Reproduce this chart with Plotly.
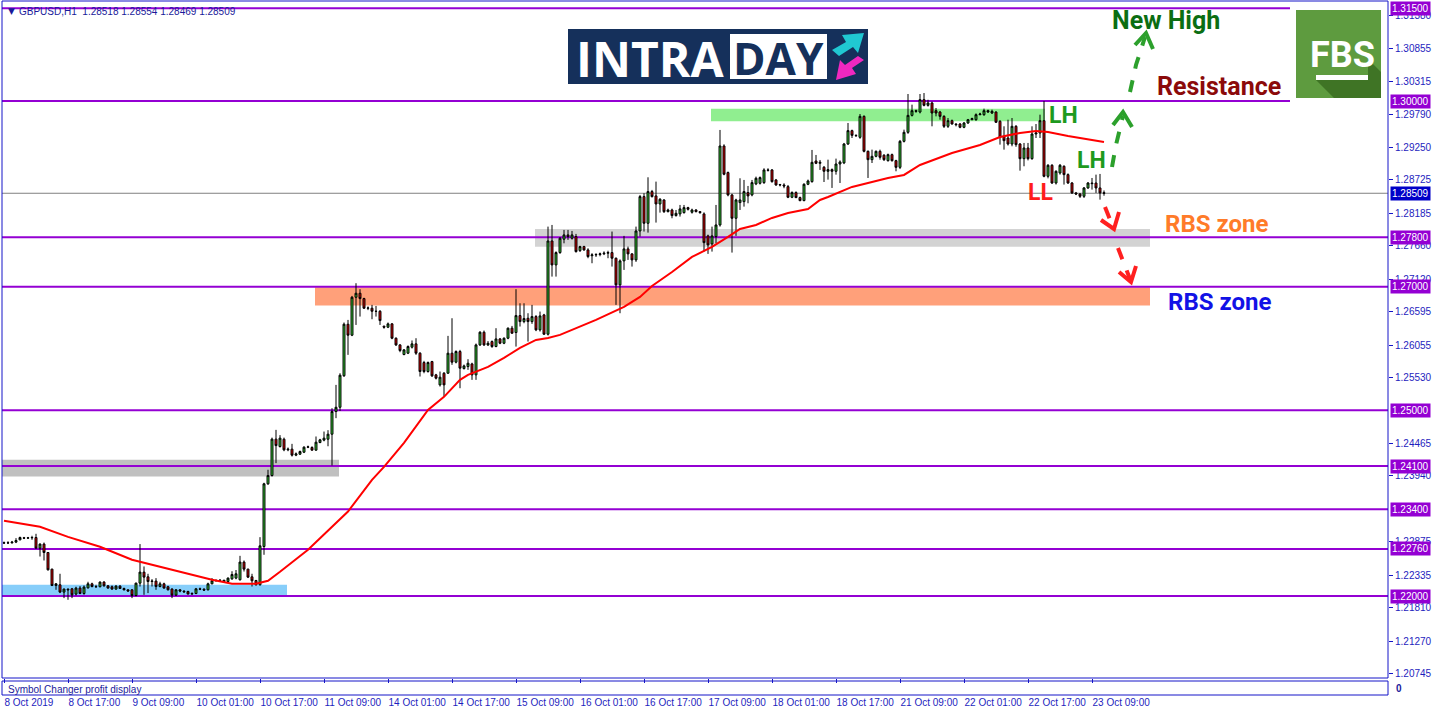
import plotly.graph_objects as go

# ---------------- DATA ----------------
bar_index = list(range(276))

opens = [
1.22855,1.22860,1.22858,1.22871,1.22908,1.22940,1.22935,1.22940,1.22945,1.22774,
1.22839,1.22703,1.22434,1.22170,1.22181,1.22063,1.22112,1.22116,1.22031,1.22128,
1.22040,1.22132,1.22197,1.22153,1.22150,1.22225,1.22165,1.22150,1.22112,1.22160,
1.22121,1.22100,1.22100,1.22008,1.22208,1.22386,1.22310,1.22234,1.22241,1.22153,
1.22197,1.22150,1.22112,1.22015,1.22100,1.22080,1.22073,1.22031,1.22040,1.22116,
1.22110,1.22100,1.22197,1.22246,1.22251,1.22255,1.22234,1.22278,1.22289,1.22262,
1.22548,1.22434,1.22310,1.22251,1.22181,1.22800,1.23813,1.23947,1.24535,1.24415,
1.24534,1.24362,1.24373,1.24276,1.24292,1.24324,1.24405,1.24400,1.24357,1.24480,
1.24519,1.24534,1.24615,1.24981,1.25050,1.25560,1.26392,1.26215,1.26828,1.26893,
1.26807,1.26651,1.26651,1.26602,1.26602,1.26360,1.26344,1.26398,1.26166,1.26058,
1.25903,1.25924,1.26021,1.26075,1.25924,1.25773,1.25628,1.25789,1.25574,1.25412,
1.25600,1.25601,1.25924,1.25779,1.25951,1.25676,1.25708,1.25751,1.25574,1.26058,
1.26263,1.26058,1.26112,1.26032,1.26155,1.26085,1.26166,1.26328,1.26258,1.26532,
1.26435,1.26489,1.26435,1.26516,1.26301,1.26543,1.26231,1.27738,1.27351,1.27550,
1.27766,1.27836,1.27782,1.27809,1.27582,1.27647,1.27593,1.27500,1.27513,1.27518,
1.27530,1.27540,1.27550,1.27459,1.27028,1.27416,1.27610,1.27529,1.27432,1.27900,
1.28455,1.28024,1.28536,1.28466,1.28336,1.28401,1.28212,1.28239,1.28148,1.28175,
1.28196,1.28277,1.28202,1.28239,1.28212,1.28175,1.27820,1.27690,1.27809,1.27997,
1.29273,1.28843,1.28482,1.28105,1.28358,1.28374,1.28520,1.28482,1.28660,1.28670,
1.28681,1.28886,1.28886,1.28724,1.28643,1.28643,1.28616,1.28444,1.28520,1.28439,
1.28390,1.28654,1.28697,1.29031,1.28993,1.28929,1.28864,1.28891,1.28864,1.28982,
1.29000,1.29305,1.29521,1.29445,1.29413,1.29752,1.29187,1.29052,1.29106,1.29187,
1.29124,1.29036,1.29133,1.29036,1.28928,1.29348,1.29494,1.29768,1.29844,1.29822,
1.30022,1.29930,1.29968,1.29844,1.29822,1.29752,1.29591,1.29682,1.29628,1.29628,
1.29575,1.29645,1.29698,1.29698,1.29779,1.29779,1.29844,1.29806,1.29822,1.29672,
1.29429,1.29402,1.29305,1.29591,1.29305,1.29068,1.29241,1.29068,1.29467,1.29483,
1.29682,1.28783,1.28961,1.28675,1.28837,1.28945,1.28810,1.28675,1.28514,1.28498,
1.28460,1.28595,1.28675,1.28675,1.28595,1.28518]

highs = [
1.22880,1.22885,1.22890,1.22935,1.22960,1.22955,1.22955,1.22973,1.23005,1.22850,
1.22864,1.22710,1.22440,1.22208,1.22359,1.22120,1.22120,1.22130,1.22150,1.22160,
1.22170,1.22230,1.22215,1.22181,1.22235,1.22240,1.22175,1.22170,1.22175,1.22175,
1.22135,1.22105,1.22110,1.22215,1.22839,1.22477,1.22359,1.22273,1.22289,1.22230,
1.22215,1.22165,1.22125,1.22110,1.22110,1.22090,1.22085,1.22060,1.22130,1.22135,
1.22125,1.22215,1.22290,1.22270,1.22270,1.22260,1.22300,1.22400,1.22420,1.22649,
1.22574,1.22440,1.22359,1.22260,1.22951,1.23830,1.24040,1.24560,1.24685,1.24600,
1.24560,1.24400,1.24459,1.24320,1.24350,1.24420,1.24430,1.24420,1.24578,1.24540,
1.24658,1.24680,1.25035,1.25412,1.25600,1.26420,1.26462,1.26850,1.27055,1.26958,
1.26820,1.26680,1.26705,1.26688,1.26620,1.26370,1.26420,1.26410,1.26180,1.26070,
1.25990,1.26050,1.26130,1.26166,1.25940,1.25800,1.25790,1.25800,1.25590,1.25628,
1.25620,1.26204,1.26489,1.25970,1.25978,1.25740,1.25827,1.25770,1.26080,1.26280,
1.26290,1.26120,1.26130,1.26328,1.26170,1.26180,1.26340,1.26365,1.26958,1.26731,
1.26731,1.26570,1.26705,1.26540,1.26597,1.26560,1.27970,1.27997,1.27570,1.27800,
1.27916,1.27916,1.27900,1.27852,1.27660,1.27660,1.27620,1.27540,1.27540,1.27550,
1.27570,1.27580,1.27890,1.27470,1.27440,1.27820,1.27647,1.27540,1.27970,1.28482,
1.28509,1.28767,1.28563,1.28697,1.28430,1.28412,1.28260,1.28260,1.28239,1.28320,
1.28320,1.28290,1.28260,1.28250,1.28220,1.28200,1.27840,1.27970,1.28320,1.29532,
1.29300,1.28860,1.28500,1.28420,1.28751,1.28724,1.28627,1.28724,1.28778,1.28780,
1.28913,1.28913,1.28900,1.28740,1.28660,1.28670,1.28643,1.28540,1.28540,1.28455,
1.28670,1.28730,1.29209,1.29128,1.29047,1.28950,1.29052,1.28910,1.29069,1.29040,
1.29322,1.29645,1.29537,1.29460,1.29790,1.29768,1.29200,1.29214,1.29200,1.29214,
1.29140,1.29150,1.29150,1.29050,1.29370,1.29537,1.30113,1.29941,1.29860,1.30113,
1.30129,1.30020,1.29990,1.29887,1.29840,1.29770,1.29725,1.29700,1.29640,1.29645,
1.29660,1.29710,1.29730,1.29800,1.29810,1.29876,1.29860,1.29860,1.29833,1.29690,
1.29591,1.29698,1.29725,1.29610,1.29320,1.29322,1.29322,1.29591,1.29628,1.29779,
1.30000,1.28980,1.28980,1.28880,1.28982,1.28960,1.28830,1.28690,1.28530,1.28510,
1.28610,1.28690,1.28756,1.28810,1.28821,1.28554]

lows = [
1.22840,1.22840,1.22850,1.22855,1.22900,1.22920,1.22925,1.22908,1.22765,1.22638,
1.22574,1.22412,1.22160,1.22100,1.22047,1.21966,1.21939,1.21966,1.22010,1.22030,
1.22020,1.22120,1.22140,1.22130,1.22140,1.22150,1.22120,1.22100,1.22100,1.22115,
1.22090,1.22070,1.21966,1.21995,1.22153,1.22019,1.22047,1.22153,1.22100,1.22140,
1.22120,1.22090,1.21966,1.22000,1.22060,1.22050,1.22030,1.22020,1.22030,1.22095,
1.22085,1.22090,1.22190,1.22235,1.22235,1.22220,1.22220,1.22260,1.22270,1.22250,
1.22396,1.22290,1.22153,1.22170,1.22170,1.22666,1.23796,1.23930,1.24147,1.24400,
1.24340,1.24340,1.24254,1.24260,1.24280,1.24310,1.24390,1.24350,1.24350,1.24470,
1.24500,1.24420,1.24109,1.24874,1.24990,1.25540,1.25897,1.26200,1.26381,1.26516,
1.26640,1.26620,1.26473,1.26516,1.26381,1.26320,1.26330,1.26150,1.26040,1.25940,
1.25890,1.25910,1.26000,1.25897,1.25547,1.25600,1.25610,1.25540,1.25500,1.25385,
1.25224,1.25590,1.25736,1.25760,1.25358,1.25660,1.25655,1.25493,1.25493,1.26040,
1.26040,1.26040,1.26010,1.26020,1.26070,1.26070,1.26150,1.26240,1.26031,1.26355,
1.26408,1.26112,1.26398,1.26280,1.26274,1.26220,1.26210,1.27162,1.27162,1.27530,
1.27700,1.27755,1.27760,1.27550,1.27560,1.27580,1.27459,1.27378,1.27480,1.27490,
1.27510,1.27459,1.27324,1.26705,1.26570,1.27270,1.27432,1.27324,1.27400,1.27809,
1.27890,1.27873,1.28440,1.28035,1.28196,1.28190,1.28200,1.28105,1.28132,1.28132,
1.28180,1.28230,1.28180,1.28200,1.28180,1.27566,1.27529,1.27566,1.27701,1.27970,
1.28800,1.28460,1.27550,1.27820,1.28239,1.28293,1.28347,1.28460,1.28640,1.28650,
1.28660,1.28860,1.28680,1.28630,1.28620,1.28590,1.28430,1.28430,1.28430,1.28380,
1.28380,1.28640,1.28680,1.28980,1.28886,1.28691,1.28729,1.28595,1.28810,1.28675,
1.28980,1.29290,1.29402,1.29420,1.29390,1.29170,1.28756,1.28998,1.29090,1.29052,
1.29030,1.29020,1.29020,1.28864,1.28900,1.29330,1.29470,1.29750,1.29810,1.29800,
1.29914,1.29910,1.29591,1.29752,1.29698,1.29564,1.29564,1.29620,1.29590,1.29560,
1.29560,1.29630,1.29690,1.29680,1.29770,1.29760,1.29810,1.29790,1.29645,1.29295,
1.29214,1.29280,1.29268,1.29260,1.28874,1.28945,1.29040,1.29050,1.29402,1.29402,
1.28767,1.28750,1.28660,1.28650,1.28810,1.28649,1.28660,1.28498,1.28480,1.28433,
1.28433,1.28580,1.28568,1.28514,1.28406,1.28469]

closes = [
1.22860,1.22858,1.22870,1.22897,1.22945,1.22935,1.22940,1.22945,1.22774,1.22839,
1.22703,1.22423,1.22170,1.22197,1.22063,1.22112,1.22100,1.22019,1.22128,1.22040,
1.22144,1.22197,1.22153,1.22150,1.22225,1.22165,1.22128,1.22112,1.22160,1.22121,
1.22100,1.22080,1.22008,1.22208,1.22386,1.22305,1.22234,1.22241,1.22153,1.22197,
1.22128,1.22100,1.22015,1.22100,1.22080,1.22068,1.22031,1.22040,1.22116,1.22110,
1.22095,1.22197,1.22246,1.22251,1.22255,1.22234,1.22289,1.22347,1.22359,1.22548,
1.22434,1.22305,1.22246,1.22181,1.22811,1.23813,1.23947,1.24535,1.24431,1.24551,
1.24362,1.24373,1.24276,1.24297,1.24335,1.24405,1.24410,1.24357,1.24486,1.24524,
1.24551,1.24615,1.24981,1.25050,1.25568,1.26392,1.26215,1.26828,1.26893,1.26807,
1.26651,1.26655,1.26602,1.26600,1.26451,1.26344,1.26398,1.26166,1.26058,1.25967,
1.25978,1.26032,1.26075,1.25924,1.25628,1.25628,1.25773,1.25558,1.25520,1.25536,
1.25412,1.25924,1.25779,1.25951,1.25682,1.25719,1.25762,1.25574,1.26058,1.26263,
1.26058,1.26085,1.26032,1.26155,1.26085,1.26166,1.26328,1.26247,1.26532,1.26435,
1.26484,1.26435,1.26516,1.26301,1.26527,1.26231,1.27738,1.27351,1.27550,1.27782,
1.27836,1.27809,1.27836,1.27566,1.27647,1.27593,1.27486,1.27513,1.27518,1.27530,
1.27540,1.27550,1.27459,1.27028,1.27416,1.27610,1.27529,1.27432,1.27900,1.28455,
1.28024,1.28536,1.28455,1.28336,1.28412,1.28212,1.28239,1.28148,1.28185,1.28256,
1.28277,1.28250,1.28239,1.28212,1.28196,1.27711,1.27674,1.27820,1.27997,1.29273,
1.28816,1.28482,1.28105,1.28401,1.28401,1.28536,1.28466,1.28681,1.28751,1.28762,
1.28886,1.28880,1.28697,1.28643,1.28648,1.28627,1.28444,1.28520,1.28439,1.28390,
1.28654,1.28708,1.29009,1.28993,1.29009,1.28864,1.28891,1.28864,1.28982,1.29015,
1.29305,1.29521,1.29445,1.29440,1.29752,1.29187,1.29052,1.29106,1.29187,1.29090,
1.29052,1.29133,1.29036,1.28928,1.29348,1.29494,1.29768,1.29844,1.29833,1.30022,
1.29930,1.29968,1.29806,1.29806,1.29752,1.29591,1.29682,1.29628,1.29618,1.29575,
1.29645,1.29698,1.29715,1.29779,1.29790,1.29844,1.29822,1.29833,1.29656,1.29413,
1.29359,1.29305,1.29591,1.29295,1.29068,1.29241,1.29068,1.29467,1.29483,1.29682,
1.28783,1.28961,1.28675,1.28864,1.28961,1.28810,1.28675,1.28514,1.28498,1.28460,
1.28595,1.28675,1.28665,1.28595,1.28514,1.28509]

# moving average (red line) read at selected bars
ma_index = [0, 9, 16, 24, 32, 39, 46, 52, 57, 63, 66, 69, 76, 82, 86, 92, 95, 100, 106, 110,
            114, 116, 121, 125, 129, 133, 136, 139, 148, 155, 159, 162, 167, 172, 177, 181,
            184, 188, 192, 196, 201, 204, 206, 212, 221, 225, 229, 237, 244, 249, 254, 258,
            261, 266, 271, 275]
ma_value = [1.23215, 1.23118, 1.22956, 1.22795, 1.22585, 1.22472, 1.22359, 1.22262, 1.22197,
            1.22197, 1.22246, 1.22391, 1.22746, 1.23123, 1.23365, 1.23877, 1.24087, 1.24475,
            1.25008, 1.25218, 1.25493, 1.25573, 1.25703, 1.25848, 1.26010, 1.26139, 1.26171,
            1.26220, 1.26462, 1.26672, 1.26834, 1.27011, 1.27237, 1.27480, 1.27641, 1.27803,
            1.27932, 1.27997, 1.28110, 1.28191, 1.28255, 1.28401, 1.28449, 1.28611, 1.28756,
            1.28805, 1.28966, 1.29160, 1.29289, 1.29418, 1.29483, 1.29515, 1.29499, 1.29435,
            1.29386, 1.29338]

# time axis labels
xtick_index = [0, 16, 32, 48, 64, 80, 96, 112, 128, 144, 160, 176, 192, 208, 224, 240, 256, 272]
xtick_text = ["8 Oct 2019", "8 Oct 17:00", "9 Oct 09:00", "10 Oct 01:00", "10 Oct 17:00",
              "11 Oct 09:00", "14 Oct 01:00", "14 Oct 17:00", "15 Oct 09:00", "16 Oct 01:00",
              "16 Oct 17:00", "17 Oct 09:00", "18 Oct 01:00", "18 Oct 17:00", "21 Oct 09:00",
              "22 Oct 01:00", "22 Oct 17:00", "23 Oct 09:00"]

# price axis ticks (visible ones)
ytick_values = [1.31380, 1.30855, 1.30315, 1.29790, 1.29250, 1.28725, 1.28185, 1.27660,
                1.27120, 1.26595, 1.26055, 1.25530, 1.24465, 1.23940,
                1.22875, 1.22335, 1.21810, 1.21270, 1.20745]

# horizontal levels
level_prices = [1.31500, 1.30000, 1.27800, 1.27000, 1.25000, 1.24100, 1.23400, 1.22760, 1.22000]
level_end_bar = [321.5, 321.5, 346, 346, 346, 346, 346, 346, 346]
current_price = 1.28509

# zones (bar start, bar end, low price, high price)
zone_start = [-0.5, -0.5, 77.75, 132.75, 176.75]
zone_end = [70.75, 83.75, 286.5, 286.5, 260.25]
zone_low = [1.22000, 1.23931, 1.26693, 1.27646, 1.29672]
zone_high = [1.22180, 1.24200, 1.26990, 1.27932, 1.29876]

header_text = "GBPUSD,H1  1.28518 1.28554 1.28469 1.28509"

# ---------------- STYLE / LAYOUT ----------------
W, H = 1436, 716
ML, MR, MT, MB = 2, 48, 1, 21
PW, PH = W - ML - MR, H - MT - MB
FRAME = "#1515C8"
TXT = "#1E1EBE"
PURPLE = "#9400D3"
zone_colors = ["#87CEFA", "#C0C0C0", "#FFA07A", "#D3D3D3", "#90EE90"]


def fx(px):
    return (px - ML) / PW


def fy(py):
    return (H - MB - py) / PH


main_dom = [fy(678), 1.0]
sub_dom = [0.0, fy(681)]

fig = go.Figure()

fig.add_trace(go.Candlestick(
    x=bar_index, open=opens, high=highs, low=lows, close=closes,
    increasing=dict(fillcolor="#32CD32", line=dict(color="black", width=1)),
    decreasing=dict(fillcolor="#DD0000", line=dict(color="black", width=1)),
    whiskerwidth=0, hoverinfo="skip", showlegend=False, xaxis="x", yaxis="y"))

fig.add_trace(go.Scatter(
    x=ma_index, y=ma_value, mode="lines", line=dict(color="#FF0000", width=2),
    hoverinfo="skip", showlegend=False, xaxis="x", yaxis="y"))

shapes = []
# zones
for x0, x1, y0, y1, c in zip(zone_start, zone_end, zone_low, zone_high, zone_colors):
    shapes.append(dict(type="rect", xref="x", yref="y", x0=x0, x1=x1, y0=y0, y1=y1,
                       fillcolor=c, line=dict(width=0), layer="below"))
# current price line
shapes.append(dict(type="line", xref="x", yref="y", x0=-0.5, x1=346, y0=current_price,
                   y1=current_price, line=dict(color="#808080", width=1), layer="below"))
# levels
for p, xe in zip(level_prices, level_end_bar):
    shapes.append(dict(type="line", xref="x", yref="y", x0=-0.5, x1=xe, y0=p, y1=p,
                       line=dict(color=PURPLE, width=2), layer="below"))

# frames
shapes.append(dict(type="rect", xref="paper", yref="paper", x0=0, x1=1, y0=main_dom[0], y1=1,
                   line=dict(color=FRAME, width=1)))
shapes.append(dict(type="rect", xref="paper", yref="paper", x0=0, x1=1, y0=sub_dom[0], y1=sub_dom[1],
                   line=dict(color=FRAME, width=1)))


def prect(x0, y0, x1, y1, color, layer="above"):
    return dict(type="rect", xref="paper", yref="paper", x0=fx(x0), x1=fx(x1), y0=fy(y1), y1=fy(y0),
                fillcolor=color, line=dict(width=0), layer=layer)


def ppath(points, color=None, line_color=None, width=0, closed=True, dash=None):
    d = "M " + " L ".join(f"{fx(a):.5f},{fy(b):.5f}" for a, b in points)
    if closed:
        d += " Z"
    s = dict(type="path", xref="paper", yref="paper", path=d, layer="above",
             line=dict(color=line_color or "rgba(0,0,0,0)", width=width))
    if dash:
        s["line"]["dash"] = dash
    if color:
        s["fillcolor"] = color
    return s


# INTRADAY logo
shapes.append(prect(568, 29, 868, 84, "#15305B"))
shapes.append(prect(730, 34, 827, 79, "white"))
# logo arrows (cyan up-right, magenta down-left)
shapes.append(ppath([(832, 50), (846, 42), (842, 35), (864, 33), (858, 53), (853, 47), (839, 56)],
                    color="#20C8D2"))
shapes.append(ppath([(864, 60), (852, 68), (856, 74), (836, 80), (840, 60), (845, 65), (858, 56)],
                    color="#F028C0"))

# FBS logo
shapes.append(prect(1296, 10, 1381, 98, "#5E9B3F"))
shapes.append(ppath([(1316, 80), (1334, 98), (1381, 98), (1381, 72), (1368, 59), (1368, 80)],
                    color="#3F7425"))
shapes.append(prect(1316, 75, 1368, 80, "white"))

# dashed arrows
arrow_specs = [
    ("#2CA02C", [(1112, 167), (1116, 145), (1123, 116)], [(1113, 125), (1123, 112), (1132, 127)]),
    ("#2CA02C", [(1130, 92), (1136, 65), (1145, 37)], [(1135, 45), (1146, 33), (1153, 49)]),
    ("#FF2020", [(1105, 207), (1113, 227)], [(1101, 220), (1114, 229), (1119, 212)]),
    ("#FF2020", [(1118, 248), (1130, 279)], [(1119, 272), (1131, 282), (1136, 266)]),
]
for col, body, head in arrow_specs:
    shapes.append(ppath(body, line_color=col, width=4, closed=False, dash="dash"))
    shapes.append(ppath(head, line_color=col, width=4, closed=False))

annotations = []


def ptext(text, x, y, size, color, family="Roboto", xanchor="center", bold=True):
    t = f"<b>{text}</b>" if bold else text
    return dict(text=t, x=fx(x), y=fy(y), xref="paper", yref="paper", showarrow=False,
                xanchor=xanchor, yanchor="middle", font=dict(family=family, size=size, color=color))


annotations.append(ptext("New High", 1166, 21, 25, "#0B6E12"))
annotations.append(ptext("Resistance", 1219, 87, 25, "#8B0A0A"))
annotations.append(ptext("LH", 1063, 115, 23, "#1E9A1E"))
annotations.append(ptext("LH", 1091, 160, 23, "#1E9A1E"))
annotations.append(ptext("LL", 1040, 193, 23, "#FF1C1C"))
annotations.append(ptext("RBS zone", 1216, 224, 24, "#FF7B29"))
annotations.append(ptext("RBS zone", 1219, 302, 24, "#1212E6"))

# logos text
annotations.append(ptext("INTRA", 650, 58, 48, "white", family="Open Sans"))
annotations.append(ptext("DAY", 778, 58, 44, "#15305B", family="Open Sans"))
annotations.append(ptext("FBS", 1342, 55, 36, "white", family="Liberation Sans Narrow, Roboto"))

# header
annotations.append(ptext("\u25BC", 6, 11, 9, "#1A1A9A", family="DejaVu Sans", xanchor="left", bold=False))
annotations.append(ptext(header_text, 17, 11, 10, "#1A1A9A", family="Liberation Sans",
                         xanchor="left", bold=False))
annotations.append(ptext("Symbol Changer profit display", 6, 689, 10, "#1A1A9A",
                         family="Liberation Sans", xanchor="left", bold=False))
# indicator window scale value
annotations.append(ptext("0", 1394, 688, 10, "#1A1A9A", family="Liberation Sans", xanchor="left"))

# price labels on the axis
for p in level_prices:
    annotations.append(dict(text=f"{p:.5f}", x=1, y=p, xref="paper", yref="y", xanchor="left",
                            yanchor="middle", xshift=2, showarrow=False, bgcolor=PURPLE,
                            borderpad=1, font=dict(family="Liberation Sans", size=10, color="white")))
annotations.append(dict(text=f"{current_price:.5f}", x=1, y=current_price, xref="paper", yref="y",
                        xanchor="left", yanchor="middle", xshift=2, showarrow=False, bgcolor="#0000C8",
                        borderpad=1, font=dict(family="Liberation Sans", size=10, color="white")))

fig.update_layout(
    width=W, height=H, margin=dict(l=ML, r=MR, t=MT, b=MB, autoexpand=False),
    paper_bgcolor="white", plot_bgcolor="white", showlegend=False, hovermode=False,
    shapes=shapes, annotations=annotations,
    xaxis=dict(anchor="y2", range=[-0.5, 346], tickvals=xtick_index, ticktext=xtick_text,
               ticks="outside", ticklen=4, tickcolor=FRAME, showgrid=False, zeroline=False,
               showline=False, ticklabelposition="outside right", ticklabelstandoff=15,
               automargin=False, tickangle=0,
               tickfont=dict(family="Liberation Sans", size=10, color=TXT),
               rangeslider=dict(visible=False), fixedrange=True),
    yaxis=dict(domain=main_dom, range=[1.206747, 1.316162], side="right", anchor="x",
               tickvals=ytick_values, ticktext=[f"{v:.5f}" for v in ytick_values],
               ticks="outside", ticklen=4, tickcolor=FRAME, showgrid=False, zeroline=False,
               showline=False, automargin=False,
               tickfont=dict(family="Liberation Sans", size=10, color=TXT),
               fixedrange=True),
    yaxis2=dict(domain=sub_dom, range=[-1, 1], side="right", anchor="x",
                showticklabels=False, ticks="", showgrid=False, zeroline=False, showline=False,
                automargin=False, fixedrange=True),
)

fig.write_html("out.html", config={"displayModeBar": False},
               post_script="document.body.style.margin='0';document.body.style.overflow='hidden';")
